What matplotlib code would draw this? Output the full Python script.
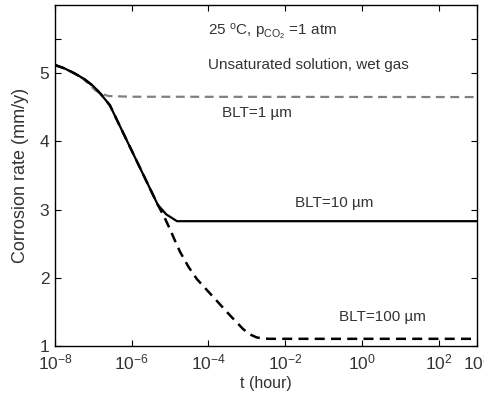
import numpy as np
import matplotlib
matplotlib.use("Agg")
import matplotlib.pyplot as plt

plt.rcParams['font.family'] = ['Liberation Sans', 'DejaVu Sans']
plt.rcParams['mathtext.fontset'] = 'custom'
plt.rcParams['mathtext.rm'] = 'Liberation Sans'
plt.rcParams['mathtext.it'] = 'Liberation Sans:italic'
plt.rcParams['mathtext.bf'] = 'Liberation Sans:bold'

# log10 of time (hour) and corrosion rate (mm/y) for each boundary-layer thickness
logt_blt1 = [-8.0, -7.75, -7.5, -7.25, -7.1, -6.95, -6.8, -6.6, -6.0, 3.0]
rate_blt1 = [5.12, 5.07, 5.00, 4.91, 4.83, 4.75, 4.70, 4.665, 4.655, 4.65]

logt_blt10 = [-8.0, -7.75, -7.5, -7.25, -7.0, -6.8, -6.57, -5.32, -5.1, -4.82, 3.0]
rate_blt10 = [5.12, 5.07, 5.00, 4.92, 4.81, 4.69, 4.53, 3.07, 2.93, 2.83, 2.83]

logt_blt100 = [-8.0, -7.75, -7.5, -7.25, -7.0, -6.8, -6.57, -5.32, -5.15,
               -5.0, -4.87, -4.74, -4.52, -4.30, -4.04, -3.78, -3.44, -3.10,
               -2.92, -2.74, -2.58, -2.4, 3.0]
rate_blt100 = [5.12, 5.07, 5.00, 4.92, 4.81, 4.69, 4.53, 3.07, 2.89,
               2.71, 2.54, 2.38, 2.16, 1.98, 1.82, 1.66, 1.45, 1.25,
               1.17, 1.125, 1.11, 1.105, 1.105]

xtick_vals = [1e-8, 1e-6, 1e-4, 1e-2, 1e0, 1e2, 1e3]
ytick_vals = [1, 2, 3, 4, 5, 5.5]
ytick_labels = ['1', '2', '3', '4', '5', '']

fig = plt.figure(figsize=(4.85, 3.98), dpi=100)
ax = fig.add_axes([0.1134, 0.1307, 0.8701, 0.8567])

tc = '#333333'
ax.plot(10 ** np.array(logt_blt1), rate_blt1, color='#808080', lw=1.6,
        ls=(0, (4, 2.5)))
ax.plot(10 ** np.array(logt_blt10), rate_blt10, color='black', lw=1.6, ls='-')
ax.plot(10 ** np.array(logt_blt100), rate_blt100, color='black', lw=1.8,
        ls=(0, (4, 2.5)))

ax.set_xscale('log')
ax.set_xlim(1e-8, 1e3)
ax.set_ylim(1, 6)
ax.set_xticks(xtick_vals)
ax.minorticks_off()
ax.set_yticks(ytick_vals)
ax.set_yticklabels(ytick_labels)
ax.tick_params(direction='in', length=4, top=True, right=True,
               labelsize=12.5, colors='black', labelcolor=tc)
ax.tick_params(axis='x', pad=5)
ax.tick_params(axis='y', pad=4)
for s in ax.spines.values():
    s.set_color('black')
    s.set_linewidth(1.0)

ax.set_xlabel('t (hour)', fontsize=11.5, color=tc, labelpad=2)
ax.set_ylabel('Corrosion rate (mm/y)', fontsize=13, color=tc, labelpad=8)

ax.text(0.3626, 0.921, r'25 $^{\rm o}$C, p$_{\rm CO_2}$ =1 atm', transform=ax.transAxes,
        ha='left', va='center', fontsize=11, color=tc)
ax.text(0.3626, 0.824, 'Unsaturated solution, wet gas', transform=ax.transAxes,
        ha='left', va='center', fontsize=11, color=tc)
ax.text(0.396, 0.683, 'BLT=1 µm', transform=ax.transAxes,
        ha='left', va='center', fontsize=11, color=tc)
ax.text(0.569, 0.419, 'BLT=10 µm', transform=ax.transAxes,
        ha='left', va='center', fontsize=11, color=tc)
ax.text(0.673, 0.085, 'BLT=100 µm', transform=ax.transAxes,
        ha='left', va='center', fontsize=11, color=tc)

fig.savefig('out.png', dpi=100)
